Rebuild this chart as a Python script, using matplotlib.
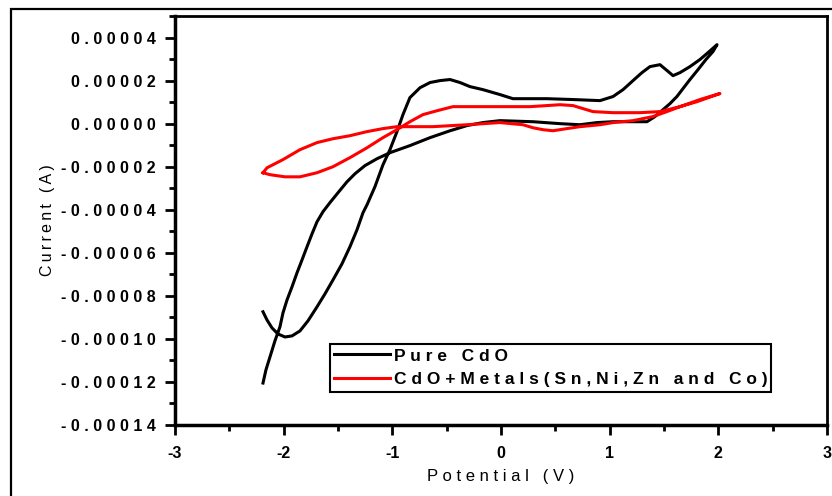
import matplotlib
matplotlib.use("Agg")
import matplotlib.pyplot as plt
from matplotlib.ticker import MultipleLocator, FuncFormatter
from matplotlib.patches import Rectangle

# cyclic voltammograms, potential in V, current in microamps
pure_v = [-2.190, -2.153, -2.107, -2.052, -1.988, -1.923, -1.850, -1.776, -1.693, -1.620,
          -1.546, -1.463, -1.390, -1.325, -1.270, -1.233, -1.160, -1.086, -1.022, -0.957,
          -0.902, -0.838, -0.745, -0.653, -0.561, -0.469, -0.377, -0.285, -0.166, -0.009,
          0.110, 0.267, 0.423, 0.662, 0.911, 1.031, 1.123, 1.215, 1.297, 1.371,
          1.463, 1.527, 1.583, 1.647, 1.739, 1.831, 1.905, 1.988,
          1.951, 1.886, 1.813, 1.739, 1.675, 1.619, 1.555, 1.491, 1.417, 1.343,
          1.187, 1.031, 0.883, 0.727, 0.543, 0.294, -0.009, -0.166, -0.313, -0.469,
          -0.653, -0.838, -1.022, -1.141, -1.252, -1.344, -1.417, -1.500, -1.574, -1.638,
          -1.693, -1.739, -1.785, -1.831, -1.877, -1.923, -1.969, -2.006, -2.034, -2.080,
          -2.126, -2.163, -2.190]
pure_i = [-87.4, -91.2, -94.9, -97.7, -99.1, -98.6, -96.3, -91.6, -85.1, -79.1,
          -72.6, -65.1, -57.2, -49.3, -41.4, -37.7, -29.3, -19.1, -12.1, -3.7,
          4.2, 12.1, 16.7, 19.1, 20.0, 20.5, 19.1, 17.2, 15.8, 13.5,
          11.6, 11.6, 11.6, 11.2, 10.7, 12.6, 15.8, 20.0, 23.7, 26.5,
          27.4, 24.7, 22.3, 23.7, 26.5, 29.8, 33.0, 36.7,
          33.5, 29.8, 25.1, 20.5, 16.3, 12.6, 9.3, 6.5, 3.3, 0.9,
          0.9, 0.9, 0.5, -0.5, 0.0, 0.9, 1.4, 0.5, -0.9, -3.3,
          -6.5, -10.2, -13.5, -16.3, -19.5, -23.3, -27.0, -32.1, -36.7, -40.9,
          -45.6, -51.2, -57.2, -63.3, -69.3, -75.8, -81.9, -87.9, -94.4, -100.9,
          -108.4, -114.4, -120.5]

metal_v = [-2.190, -2.126, -1.988, -1.850, -1.693, -1.546, -1.390, -1.233, -1.086, -0.957,
           -0.838, -0.718, -0.589, -0.442, -0.193, -0.009, 0.267, 0.423, 0.543, 0.662,
           0.754, 0.846, 1.031, 1.279, 1.463, 1.647, 1.803, 2.015,
           1.831, 1.675, 1.527, 1.399, 1.215, 1.031, 0.911, 0.727, 0.607, 0.478,
           0.386, 0.294, 0.202, -0.009, -0.313, -0.626, -0.838, -0.957, -1.086, -1.233,
           -1.390, -1.546, -1.693, -1.850, -2.006, -2.153, -2.190]
metal_i = [-22.8, -23.7, -24.7, -24.7, -22.8, -20.0, -15.8, -11.2, -6.5, -2.8,
           0.9, 4.2, 6.0, 7.9, 7.9, 7.9, 7.9, 8.4, 8.8, 8.4,
           7.0, 5.6, 5.1, 5.1, 5.6, 7.9, 10.2, 14.0,
           11.2, 8.4, 5.6, 3.3, 1.4, 0.5, -0.5, -1.4, -2.3, -3.3,
           -2.8, -1.9, -0.5, 0.5, -0.5, -1.4, -1.4, -1.4, -2.3, -3.7,
           -5.6, -7.0, -8.8, -12.1, -16.7, -20.5, -22.8]

labels = ["Pure CdO", "CdO+Metals(Sn,Ni,Zn and Co)"]
xticks = [-3, -2, -1, 0, 1, 2, 3]


def spaced(s):
    return " ".join(s)


plt.rcParams["font.family"] = ["Liberation Sans", "DejaVu Sans"]
plt.rcParams["font.weight"] = "bold"

fig = plt.figure(figsize=(8.32, 4.96), dpi=100)
ax = fig.add_axes([0.2103, 0.1431, 0.7837, 0.8246])

ax.plot(pure_v, [i * 1e-6 for i in pure_i], color="black", lw=2.2,
        label=spaced(labels[0]))
ax.plot(metal_v, [i * 1e-6 for i in metal_i], color="#ff0000", lw=2.2,
        label=spaced(labels[1]))

ax.set_xlim(-3, 3)
ax.set_ylim(-0.00014, 0.00005)
ax.set_xticks(xticks)
ax.xaxis.set_minor_locator(MultipleLocator(0.5))
ax.yaxis.set_major_locator(MultipleLocator(0.00002))
ax.yaxis.set_minor_locator(MultipleLocator(0.00001))
ax.yaxis.set_major_formatter(FuncFormatter(lambda y, p: spaced("%.5f" % y if abs(y) > 1e-12 else "0.00000")))
ax.xaxis.set_major_formatter(FuncFormatter(lambda x, p: "%d" % x))

ax.tick_params(which="major", direction="out", length=7, width=2, labelsize=11.5, pad=7)
ax.tick_params(which="minor", direction="out", length=4, width=2)
ax.tick_params(axis="x", which="major", pad=8)
for side in ["left", "bottom"]:
    ax.spines[side].set_linewidth(2.5)
for side in ["top", "right"]:
    ax.spines[side].set_linewidth(2)

ax.set_xlabel(spaced("Potential (V)"), fontsize=12, labelpad=6)
ax.set_ylabel("\u2009".join("Current (A)"), fontsize=11.5, fontweight="normal", labelpad=4)

leg = ax.legend(loc="upper left", bbox_to_anchor=(0.238, 0.198), borderaxespad=0,
                fancybox=False, edgecolor="black", framealpha=1, fontsize=12.5,
                handlelength=3.2, handletextpad=0.2, borderpad=0.25,
                labelspacing=0.5)
leg.get_frame().set_linewidth(1.5)

# page frame around the figure
fig.patches.append(Rectangle((11 / 832, -0.1), 1.2, 1 - 9 / 496 + 0.1,
                             transform=fig.transFigure, fill=False,
                             edgecolor="black", lw=1.6))

fig.savefig("out.png", dpi=100)
